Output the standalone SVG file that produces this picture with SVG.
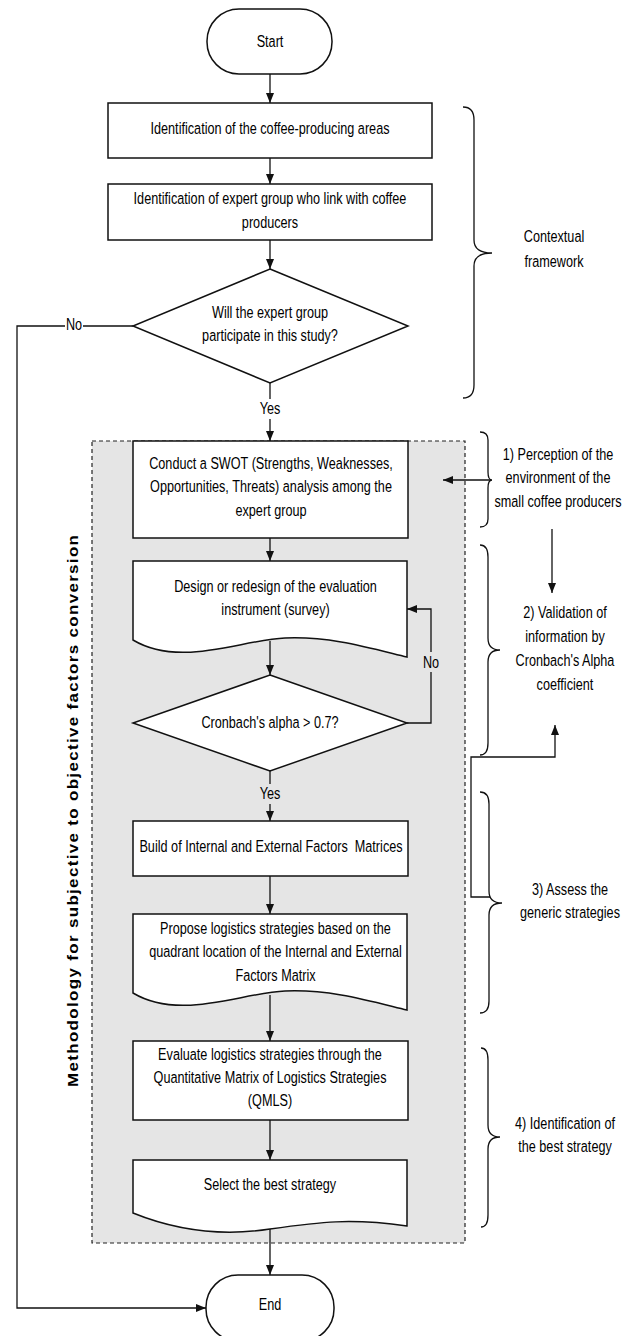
<svg xmlns="http://www.w3.org/2000/svg" width="635" height="1336" viewBox="0 0 635 1336">
<style>
.t{font-family:"Liberation Sans",Arial,sans-serif;font-size:17px;fill:#000;text-anchor:middle}
.shape{fill:#fff;stroke:#111;stroke-width:1.5}
.ln{fill:none;stroke:#111;stroke-width:1.3}
.ar{fill:none;stroke:#111;stroke-width:1.3;marker-end:url(#ah)}
.br{fill:none;stroke:#111;stroke-width:1.3}
</style>
<defs>
<marker id="ah" markerUnits="userSpaceOnUse" markerWidth="11" markerHeight="8" refX="10" refY="4" orient="auto">
<path d="M0,0 L10,4 L0,8 z" fill="#111"/>
</marker>
</defs>
<rect id="container" x="92" y="441" width="373" height="802" fill="#e5e5e5" stroke="#222" stroke-width="1.2" stroke-dasharray="4,3"/>
<text class="t" font-weight="bold" font-size="19.7" textLength="552" lengthAdjust="spacing" dominant-baseline="central" transform="translate(73,811) rotate(-90) scale(1,0.85)" x="0" y="0">Methodology for subjective to objective factors conversion</text>

<g id="connectors">
<path class="ar" d="M270,74 V103"/>
<path class="ar" d="M270,158 V184"/>
<path class="ar" d="M270,240 V269"/>
<path class="ar" d="M270,383 V441"/>
<path class="ar" d="M133,326 H17 V1308 H206"/>
<path class="ar" d="M270,538 V561"/>
<path class="ar" d="M270,641 V675"/>
<path class="ar" d="M270,771 V821"/>
<path class="ar" d="M407,723 H431 V609 H407"/>
<path class="ar" d="M270,876 V914"/>
<path class="ar" d="M270,995 V1041"/>
<path class="ar" d="M270,1120 V1160"/>
<path class="ar" d="M270,1229 V1275"/>
<path class="ar" d="M490,480 H443"/>
<path class="ar" d="M552,529 V593"/>
<path class="ar" d="M490,897 H471 V757 H555 V725"/>
<rect x="65" y="317" width="18" height="18" fill="#fff"/>
<text class="t" transform="translate(74,330) scale(0.745,1)">No</text>
<rect x="258" y="399" width="24" height="20" fill="#fff"/>
<text class="t" transform="translate(270,413.5) scale(0.745,1)">Yes</text>
<rect x="258" y="784" width="24" height="20" fill="#e5e5e5"/>
<text class="t" transform="translate(270,799) scale(0.745,1)">Yes</text>
<rect x="422" y="652" width="18" height="20" fill="#e5e5e5"/>
<text class="t" transform="translate(431,668) scale(0.745,1)">No</text>
</g>

<g id="start">
<rect class="shape" x="207" y="9" width="125" height="65" rx="32" ry="32"/>
<text class="t" transform="translate(270,46.5) scale(0.745,1)">Start</text>
</g>
<g id="box1">
<rect class="shape" x="108" y="103" width="324" height="55"/>
<text class="t" transform="translate(270,134) scale(0.745,1)">Identification of the coffee-producing areas</text>
</g>
<g id="box2">
<rect class="shape" x="108" y="184" width="324" height="56"/>
<text class="t" transform="translate(270,204) scale(0.745,1)"><tspan x="0" y="0">Identification of expert group who link with coffee</tspan><tspan x="0" y="23.7">producers</tspan></text>
</g>
<g id="decision1">
<polygon class="shape" points="270,269 408,326 270,383 133,326"/>
<text class="t" transform="translate(270,317.5) scale(0.745,1)"><tspan x="0" y="0">Will the expert group</tspan><tspan x="0" y="23.5">participate in this study?</tspan></text>
</g>
<g id="swot">
<rect class="shape" x="133" y="441" width="275" height="97"/>
<text class="t" transform="translate(271,469) scale(0.745,1)"><tspan x="0" y="0">Conduct a SWOT (Strengths, Weaknesses,</tspan><tspan x="0" y="23.3">Opportunities, Threats) analysis among the</tspan><tspan x="0" y="46.6">expert group</tspan></text>
</g>
<g id="design">
<path class="shape" d="M133,561 H407 V657 C370,648 330,636 285,638 C240,640 180,668 133,640 Z"/>
<text class="t" transform="translate(275.5,592) scale(0.745,1)"><tspan x="0" y="0">Design or redesign of the evaluation</tspan><tspan x="0" y="23.5">instrument (survey)</tspan></text>
</g>
<g id="decision2">
<polygon class="shape" points="270,675 407,723 270,771 133,723"/>
<text class="t" transform="translate(270,727.5) scale(0.745,1)">Cronbach's alpha &gt; 0.7?</text>
</g>
<g id="build">
<rect class="shape" x="133" y="821" width="275" height="55"/>
<text class="t" transform="translate(271,852) scale(0.745,1)" xml:space="preserve">Build of Internal and External Factors  Matrices</text>
</g>
<g id="propose">
<path class="shape" d="M133,914 H407 V1010 C370,1001 330,989 285,991 C240,993 180,1021 133,993 Z"/>
<text class="t" transform="translate(275.5,934.2) scale(0.745,1)"><tspan x="0" y="0">Propose logistics strategies based on the</tspan><tspan x="0" y="23.3">quadrant location of the Internal and External</tspan><tspan x="0" y="46.6">Factors Matrix</tspan></text>
</g>
<g id="evaluate">
<rect class="shape" x="133" y="1041" width="275" height="79"/>
<text class="t" transform="translate(270,1059.8) scale(0.745,1)"><tspan x="0" y="0">Evaluate logistics strategies through the</tspan><tspan x="0" y="23.3">Quantitative Matrix of Logistics Strategies</tspan><tspan x="0" y="46.6">(QMLS)</tspan></text>
</g>
<g id="select">
<path class="shape" d="M133,1160 H407 V1226 C350,1218 320,1222 270,1229 C225,1236 180,1232 133,1213 Z"/>
<text class="t" transform="translate(270,1190) scale(0.745,1)">Select the best strategy</text>
</g>
<g id="end">
<rect class="shape" x="206" y="1275" width="128" height="66" rx="32" ry="32"/>
<text class="t" transform="translate(270,1310) scale(0.745,1)">End</text>
</g>

<g id="brace-context">
<path class="br" d="M463,107 Q474,107 474,120 L474,240 Q474,253 492,253 Q474,253 474,266 L474,385 Q474,398 463,398"/>
<text class="t" transform="translate(554,242) scale(0.745,1)"><tspan x="0" y="0">Contextual</tspan><tspan x="0" y="25">framework</tspan></text>
</g>
<g id="brace-1">
<path class="br" d="M480,432 Q488,432 488,440 L488,472 Q488,480 492,480 Q488,480 488,488 L488,519 Q488,527 480,527"/>
<text class="t" transform="translate(558,459.5) scale(0.745,1)"><tspan x="0" y="0">1) Perception of the</tspan><tspan x="0" y="23.8">environment of the</tspan><tspan x="0" y="47.6">small coffee producers</tspan></text>
</g>
<g id="brace-2">
<path class="br" d="M480,545 Q488,545 488,557 L488,638 Q488,650 500,650 Q488,650 488,662 L488,743 Q488,755 480,755"/>
<text class="t" transform="translate(565,618.2) scale(0.745,1)"><tspan x="0" y="0">2) Validation of</tspan><tspan x="0" y="23.9">information by</tspan><tspan x="0" y="47.8">Cronbach's Alpha</tspan><tspan x="0" y="71.7">coefficient</tspan></text>
</g>
<g id="brace-3">
<path class="br" d="M480,792 Q489,792 489,804 L489,891 Q489,903 502,903 Q489,903 489,915 L489,1001 Q489,1013 480,1013"/>
<text class="t" transform="translate(570,894.8) scale(0.745,1)"><tspan x="0" y="0">3) Assess the</tspan><tspan x="0" y="23.5">generic strategies</tspan></text>
</g>
<g id="brace-4">
<path class="br" d="M481,1048 Q488,1048 488,1060 L488,1125 Q488,1137 500,1137 Q488,1137 488,1149 L488,1215 Q488,1227 481,1227"/>
<text class="t" transform="translate(565,1128.8) scale(0.745,1)"><tspan x="0" y="0">4) Identification of</tspan><tspan x="0" y="23.7">the best strategy</tspan></text>
</g>
</svg>
